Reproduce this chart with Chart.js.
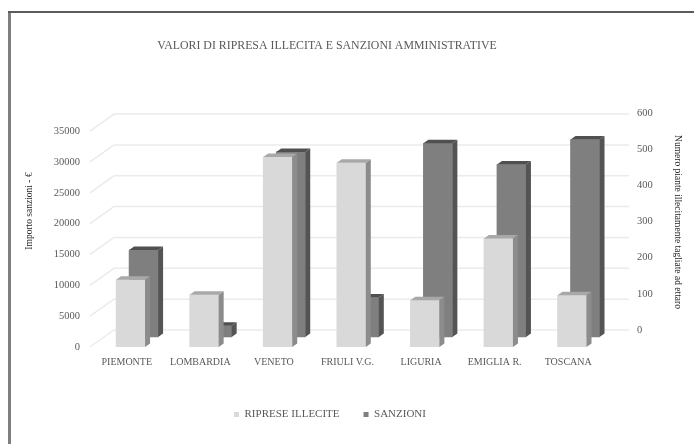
<!DOCTYPE html>
<html>
<head>
<meta charset="utf-8">
<script src="https://cdn.jsdelivr.net/npm/chart.js@4"></script>
<style>
    html, body { margin: 0; padding: 0; background: #fff; }
    canvas { display: block; }
</style>
</head>
<body>
<canvas id="chart-sanzioni" width="694" height="444"></canvas>
<script>
const regioni = ["PIEMONTE", "LOMBARDIA", "VENETO", "FRIULI V.G.", "LIGURIA", "EMIGLIA R.", "TOSCANA"];
const ripreseIllecite = [10900, 8460, 30800, 29870, 7570, 17600, 8380];
const sanzioni = [14100, 1800, 30000, 6400, 31400, 27950, 32000];
const tickImporto = [0, 5000, 10000, 15000, 20000, 25000, 30000, 35000];
const tickPiante = [0, 100, 200, 300, 400, 500, 600];

const SERIF = "'Liberation Serif', serif";
const TEXT = "#595959";

// how far the back wall sits from the front plane
const WALL_DX = 24;
const WALL_DY = 17;

const facce = [
    { shift: 3.8, side: "#8c8c8c", top: "#a8a8a8", dx: 5, dy: 3.5 },
    { shift: 16.8, side: "#545454", top: "#505050", dx: 5, dy: 3.5 }
];

function poly(ctx, color, pts) {
    ctx.fillStyle = color;
    ctx.beginPath();
    pts.forEach((p, i) => i ? ctx.lineTo(p[0], p[1]) : ctx.moveTo(p[0], p[1]));
    ctx.closePath();
    ctx.fill();
}

function verticale(ctx, text, x, y, angle) {
    ctx.save();
    ctx.textAlign = "center";
    ctx.textBaseline = "middle";
    ctx.fillStyle = "#262626";
    ctx.font = "9.5px " + SERIF;
    ctx.translate(x, y);
    ctx.rotate(angle);
    ctx.fillText(text, 0, 0);
    ctx.restore();
}

// frame, back wall lines and the captions that are off-centre from their axes
const sfondo = {
    id: "sfondo",
    beforeDraw(chart) {
        const ctx = chart.ctx;
        ctx.save();
        ctx.fillStyle = "#7f7f7f";
        ctx.fillRect(8, 12, 3, 432);
        ctx.fillStyle = "#5c5c5c";
        ctx.fillRect(8, 11, 686, 2);
        ctx.restore();
    },
    beforeDatasetsDraw(chart) {
        const ctx = chart.ctx;
        const y = chart.scales.y;
        const a = chart.chartArea;
        ctx.save();
        ctx.strokeStyle = "#ebebeb";
        ctx.lineWidth = 1.5;
        tickImporto.forEach(v => {
            const py = y.getPixelForValue(v);
            ctx.beginPath();
            ctx.moveTo(a.left, py);
            ctx.lineTo(a.left + WALL_DX, py - WALL_DY);
            ctx.lineTo(a.right + WALL_DX, py - WALL_DY);
            ctx.stroke();
        });
        ctx.restore();
    },
    afterDraw(chart) {
        const ctx = chart.ctx;
        ctx.save();
        ctx.textAlign = "center";
        ctx.textBaseline = "middle";
        ctx.fillStyle = TEXT;
        ctx.font = "11.85px " + SERIF;
        ctx.fillText("VALORI DI RIPRESA ILLECITA E SANZIONI AMMINISTRATIVE", 327, 46);
        ctx.restore();
        verticale(ctx, "Importo sanzioni - €", 29, 211, -Math.PI / 2);
        verticale(ctx, "Numero piante illecitamente tagliate ad ettaro", 677, 222, Math.PI / 2);
    }
};

// side and top faces for each bar, plus the sideways nudge of each series
const barre3d = {
    id: "barre3d",
    afterLayout(chart) {
        chart.legend.left -= 17;
        chart.legend.right -= 17;
    },
    afterDatasetsUpdate(chart) {
        facce.forEach((f, i) => {
            chart.getDatasetMeta(i).data.forEach(bar => { bar.x += f.shift; });
        });
    },
    afterDatasetDraw(chart, args) {
        const f = facce[args.index];
        const ctx = chart.ctx;
        ctx.save();
        args.meta.data.forEach(bar => {
            const l = bar.x - bar.width / 2;
            const r = bar.x + bar.width / 2;
            poly(ctx, f.side, [[r, bar.y], [r + f.dx, bar.y - f.dy], [r + f.dx, bar.base - f.dy], [r, bar.base]]);
            poly(ctx, f.top, [[l, bar.y], [l + f.dx, bar.y - f.dy], [r + f.dx, bar.y - f.dy], [r, bar.y]]);
        });
        ctx.restore();
    }
};

new Chart(document.getElementById("chart-sanzioni"), {
    type: "bar",
    data: {
        labels: regioni,
        datasets: [
            { label: "RIPRESE ILLECITE", data: ripreseIllecite, backgroundColor: "#d9d9d9", yAxisID: "y", order: 1 },
            { label: "SANZIONI", data: sanzioni, backgroundColor: "#7f7f7f", yAxisID: "yBack", order: 2 }
        ]
    },
    plugins: [sfondo, barre3d],
    options: {
        responsive: false,
        animation: false,
        grouped: false,
        barThickness: 29,
        layout: { padding: { top: 113, left: 0, right: 0, bottom: 14 } },
        plugins: {
            tooltip: { enabled: false },
            legend: {
                position: "bottom",
                onClick: null,
                labels: {
                    boxWidth: 5,
                    boxHeight: 5,
                    padding: 24,
                    color: TEXT,
                    font: { family: SERIF, size: 11 }
                }
            }
        },
        scales: {
            x: {
                grid: { display: false, drawTicks: false },
                border: { display: false },
                afterFit: s => { s.height = 38; },
                ticks: {
                    padding: 9,
                    maxRotation: 0,
                    autoSkip: false,
                    color: TEXT,
                    font: { family: SERIF, size: 10 }
                }
            },
            y: {
                position: "left",
                min: 0,
                max: 37930,
                grid: { display: false, drawTicks: false },
                border: { display: false },
                afterFit: s => { s.width = 90; },
                afterBuildTicks: s => { s.ticks = tickImporto.map(value => ({ value })); },
                ticks: {
                    padding: 10,
                    color: TEXT,
                    font: { family: SERIF, size: 10.5 },
                    callback: v => String(v)
                }
            },
            // sanzioni stand further back than the front plane, so their zero is higher up
            yBack: {
                display: false,
                min: -1628,
                max: 36302
            },
            yPiante: {
                position: "right",
                min: -47.2,
                max: 600,
                grid: { display: false, drawTicks: false },
                border: { display: false },
                afterFit: s => { s.width = 89; },
                afterBuildTicks: s => { s.ticks = tickPiante.map(value => ({ value })); },
                ticks: {
                    padding: 32,
                    color: TEXT,
                    font: { family: SERIF, size: 10.5 },
                    callback: v => String(v)
                }
            }
        }
    }
});
</script>
</body>
</html>
